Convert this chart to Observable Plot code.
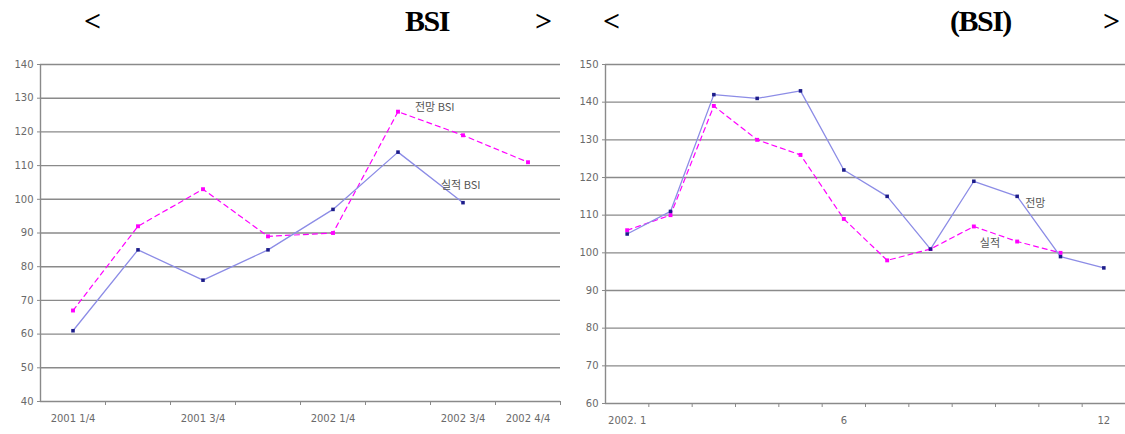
<!DOCTYPE html>
<html><head><meta charset="utf-8">
<script src="https://cdn.jsdelivr.net/npm/d3@7"></script>
<script src="https://cdn.jsdelivr.net/npm/@observablehq/plot@0.6"></script>
<style>
body{margin:0;background:#fff;width:1125px;height:434px;overflow:hidden;position:relative;font-family:"Liberation Serif",serif;}
.t{position:absolute;top:4px;font-weight:bold;font-size:30px;color:#000;font-family:"Liberation Serif",serif;letter-spacing:-1.5px;}
#charts{position:absolute;top:50px;left:0;display:flex;}
#charts svg{display:block;}
</style></head><body>
<div class="t" style="left:84px">&lt;</div>
<div class="t" style="left:405px">BSI</div>
<div class="t" style="left:535px">&gt;</div>
<div class="t" style="left:603px">&lt;</div>
<div class="t" style="left:950px">(BSI)</div>
<div class="t" style="left:1103px">&gt;</div>
<div id="charts"></div>
<script>
// Left panel: quarterly BSI
const quarters = ["2001 1/4","2001 2/4","2001 3/4","2001 4/4","2002 1/4","2002 2/4","2002 3/4","2002 4/4"];
const quarterLabelIdx = [0,2,4,6,7];
const actualQ = [61,85,76,85,97,114,99,null];      // 실적 BSI
const forecastQ = [67,92,103,89,90,126,119,111];   // 전망 BSI
const yTicksL = [40,50,60,70,80,90,100,110,120,130,140];

// Right panel: monthly BSI 2002
const months = ["2002. 1","2","3","4","5","6","7","8","9","10","11","12"];
const monthLabelIdx = [0,5,11];
const forecastM = [105,111,142,141,143,122,115,101,119,115,99,96];   // 전망
const actualM = [106,110,139,130,126,109,98,101,107,103,100,null];   // 실적
const yTicksR = [60,70,80,90,100,110,120,130,140,150];

const BLUE_LINE = "#8c8ce6", BLUE_DOT = "#1c1c8a", MAG = "#ff00ff";
const GRID = "#8a8a8a", AXIS = "#8a8a8a", TXT = "#6a6a6a";

function rows(vals){ return vals.map((v,i)=>({i, v})).filter(d=>d.v!=null); }

function panel({width, marginLeft, marginRight, marginBottom, cats, labelIdx, yDomain, yTicks, blue, mag, blueLabel, magLabel, blueAt, magAt, blueOff, magOff}){
  const n = cats.length;
  const b = rows(blue), m = rows(mag);
  const bounds = d3.range(n+1).map(k=>k-0.5);
  return Plot.plot({
    width, height:384, marginTop:14, marginBottom, marginLeft, marginRight,
    x:{type:"linear", domain:[-0.5, n-0.5], axis:null},
    y:{domain:yDomain, axis:null},
    style:{background:"transparent"},
    marks:[
      Plot.gridY(yTicks.slice(1), {stroke:GRID, strokeOpacity:1, strokeWidth:1.4}),
      Plot.ruleX([-0.5], {stroke:AXIS, strokeWidth:1.4}),
      Plot.ruleY([yDomain[0]], {stroke:AXIS, strokeWidth:1.4}),
      Plot.axisY(yTicks, {anchor:"left", tickSize:3, tickPadding:4, stroke:AXIS, fontSize:10, fill:TXT, fontFamily:"DejaVu Sans", label:null}),
      Plot.axisX(bounds.slice(1), {anchor:"bottom", tickSize:4, tickFormat:()=>"", stroke:AXIS, label:null}),
      Plot.axisX(labelIdx, {anchor:"bottom", tickSize:0, tickPadding:13, tickFormat:i=>cats[i], fontSize:10, fill:TXT, fontFamily:"DejaVu Sans", label:null}),
      Plot.line(m, {x:"i", y:"v", stroke:MAG, strokeWidth:1.2, strokeDasharray:"5,4"}),
      Plot.dot(m, {x:"i", y:"v", r:2.2, fill:MAG, symbol:"square"}),
      Plot.line(b, {x:"i", y:"v", stroke:BLUE_LINE, strokeWidth:1.3}),
      Plot.dot(b, {x:"i", y:"v", r:2, fill:BLUE_DOT, symbol:"square"}),
      Plot.text([blueLabel], {x:blueAt, y:blue[blueAt], dx:blueOff[0], dy:blueOff[1], textAnchor:"start", fontSize:11, fill:"#555", fontFamily:"Noto Sans CJK KR"}),
      Plot.text([magLabel], {x:magAt, y:mag[magAt], dx:magOff[0], dy:magOff[1], textAnchor:"start", fontSize:11, fill:"#555", fontFamily:"Noto Sans CJK KR"})
    ]
  });
}

const left = panel({width:562, marginLeft:40, marginRight:2, marginBottom:33, cats:quarters, labelIdx:quarterLabelIdx,
  yDomain:[40,140], yTicks:yTicksL, blue:actualQ, mag:forecastQ,
  blueLabel:"실적 BSI", magLabel:"전망 BSI", blueAt:6, magAt:5, blueOff:[-22,-17], magOff:[17,-4]});
const right = panel({width:563, marginLeft:43, marginRight:0, marginBottom:31, cats:months, labelIdx:monthLabelIdx,
  yDomain:[60,150], yTicks:yTicksR, blue:forecastM, mag:actualM,
  blueLabel:"전망", magLabel:"실적", blueAt:9, magAt:8, blueOff:[8,7], magOff:[6,17]});
document.getElementById("charts").append(left, right);
</script>
</body></html>
